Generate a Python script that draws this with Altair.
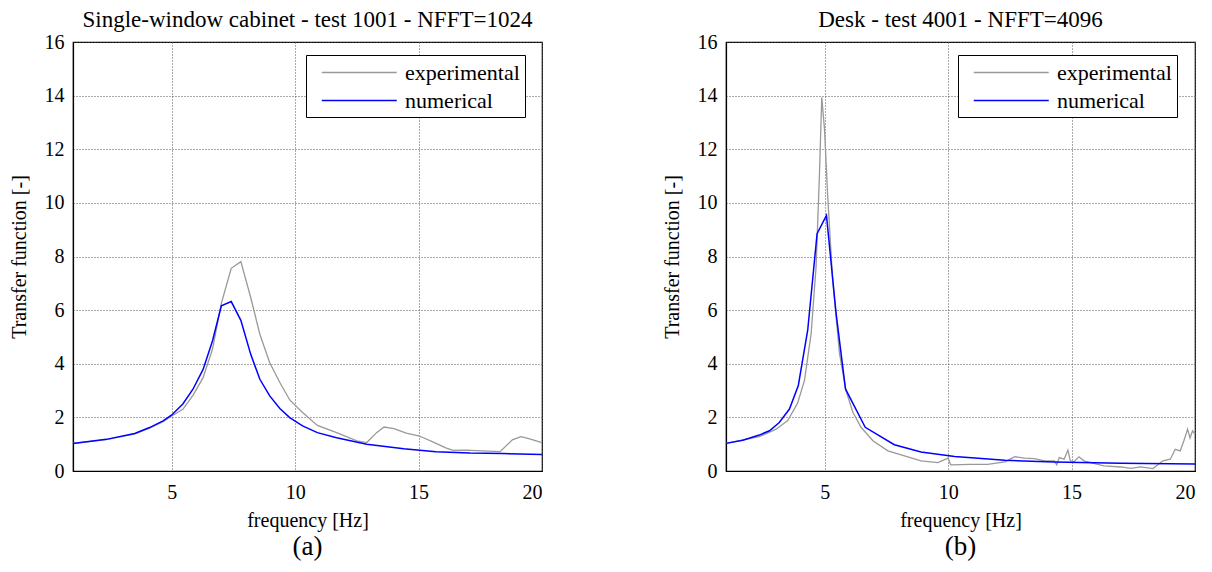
import altair as alt
import pandas as pd

SERIF = "Liberation Serif"

# ---- Panel (a): Single-window cabinet ----
a_exp_f = [1.0, 2.35, 3.5, 4.1, 4.65, 5.0, 5.45, 5.86, 6.27, 6.65, 7.01, 7.41, 7.8, 8.2, 8.57, 8.97,
           9.38, 9.78, 10.3, 10.9, 11.68, 12.5, 12.9, 13.3, 13.6, 14.0, 14.5, 15.0, 15.2, 15.6, 16.1,
           16.4, 16.9, 17.6, 18.3, 18.8, 19.15, 19.5, 20.0]
a_exp_v = [1.03, 1.17, 1.38, 1.6, 1.84, 2.05, 2.3, 2.82, 3.48, 4.54, 6.25, 7.56, 7.81, 6.47, 5.1, 4.04,
           3.3, 2.65, 2.18, 1.7, 1.43, 1.12, 1.06, 1.43, 1.64, 1.58, 1.41, 1.31, 1.24, 1.08, 0.86,
           0.77, 0.78, 0.75, 0.72, 1.16, 1.28, 1.2, 1.06]
a_num_f = [1.0, 2.35, 3.5, 4.1, 4.65, 5.0, 5.45, 5.86, 6.27, 6.65, 7.01, 7.41, 7.8, 8.2, 8.57, 8.97,
           9.38, 9.78, 10.3, 10.9, 11.68, 12.9, 14.4, 15.7, 17.08, 18.4, 20.0]
a_num_v = [1.03, 1.18, 1.4, 1.62, 1.87, 2.09, 2.5, 3.05, 3.79, 4.85, 6.16, 6.32, 5.62, 4.35, 3.42, 2.8,
           2.33, 1.99, 1.68, 1.43, 1.24, 1.0, 0.83, 0.72, 0.67, 0.65, 0.62]

# ---- Panel (b): Desk ----
b_exp_f = [1.0, 2.35, 3.03, 3.5, 3.9, 4.18, 4.45, 4.65, 4.78, 4.88, 4.99, 5.12, 5.32, 5.6, 5.86, 6.14,
           6.47, 6.95, 7.56, 8.23, 8.9, 9.58, 10.0, 10.1, 10.9, 11.6, 12.3, 12.7, 13.1, 13.5, 13.9,
           14.3, 14.4, 14.5, 14.7, 14.85, 14.95, 15.1, 15.3, 15.5, 16.3, 17.0, 17.4, 17.8, 18.3,
           18.7, 19.0, 19.2, 19.4, 19.55, 19.7, 19.8, 19.9, 20.0]
b_exp_v = [1.03, 1.28, 1.56, 1.88, 2.53, 3.38, 5.13, 7.63, 10.9, 13.94, 12.75, 10.25, 7.13, 4.38, 3.0, 2.19,
           1.63, 1.13, 0.75, 0.56, 0.38, 0.31, 0.48, 0.23, 0.25, 0.25, 0.34, 0.53, 0.48, 0.46, 0.38,
           0.38, 0.23, 0.5, 0.44, 0.78, 0.38, 0.35, 0.53, 0.38, 0.19, 0.15, 0.1, 0.15, 0.09,
           0.38, 0.44, 0.81, 0.75, 1.13, 1.56, 1.23, 1.5, 1.38]
b_num_f = [1.0, 1.68, 2.35, 2.76, 3.16, 3.57, 3.93, 4.31, 4.69, 5.07, 5.46, 5.84, 6.64, 7.82, 8.9,
           10.26, 12.3, 14.3, 17.0, 20.0]
b_num_v = [1.03, 1.15, 1.34, 1.5, 1.81, 2.31, 3.19, 5.25, 8.85, 9.53, 5.88, 3.06, 1.63, 0.98, 0.71,
           0.54, 0.4, 0.34, 0.29, 0.26]

series_names = ["experimental", "numerical"]
series_colors = ["#999999", "#0000ff"]

W, H = 469, 429


def panel(ef, ev, nf, nv, title, tag, legend_x, legend_y):
    df_e = pd.DataFrame({"f": ef, "v": ev, "s": series_names[0]})
    df_n = pd.DataFrame({"f": nf, "v": nv, "s": series_names[1]})
    x = alt.X("f:Q", scale=alt.Scale(domain=[1, 20], nice=False, zero=False),
              axis=alt.Axis(values=[5, 10, 15, 20], title="frequency [Hz]"))
    y = alt.Y("v:Q", scale=alt.Scale(domain=[0, 16], nice=False),
              axis=alt.Axis(values=list(range(0, 17, 2)), title="Transfer function [-]"))
    color = alt.Color("s:N", scale=alt.Scale(domain=series_names, range=series_colors),
                      legend=alt.Legend(title=None, orient="none", legendX=legend_x, legendY=legend_y,
                                        direction="vertical"))
    le = alt.Chart(df_e).mark_line(strokeWidth=1.3).encode(x=x, y=y, color=color)
    ln = alt.Chart(df_n).mark_line(strokeWidth=1.5).encode(x=x, y=y, color=color)
    lab = alt.Chart(pd.DataFrame({"t": [tag]})).mark_text(
        font=SERIF, fontSize=27, baseline="middle", align="center"
    ).encode(text="t:N", x=alt.value(W / 2), y=alt.value(H + 76))
    return alt.layer(le, ln, lab).properties(
        width=W, height=H,
        title=alt.TitleParams(title, font=SERIF, fontSize=23, fontWeight="normal",
                              color="black", offset=0, anchor="middle"))


left = panel(a_exp_f, a_exp_v, a_num_f, a_num_v,
             "Single-window cabinet - test 1001 - NFFT=1024", "(a)", 233, 13)
right = panel(b_exp_f, b_exp_v, b_num_f, b_num_v,
              "Desk - test 4001 - NFFT=4096", "(b)", 232, 13)

chart = alt.hconcat(left, right, spacing=115).resolve_scale(color="independent").configure_view(
    stroke="black", strokeWidth=1.2
).configure_axis(
    labelFont=SERIF, labelFontSize=20, labelColor="black",
    titleFont=SERIF, titleFontSize=20, titleFontWeight="normal", titleColor="black",
    domainColor="black", domainWidth=1.2, ticks=False, labelPadding=9,
    gridColor="#555555", gridDash=[1, 2], gridWidth=1, gridOpacity=1
).configure_axisY(titlePadding=15).configure_axisX(titlePadding=8, labelPadding=11).configure_legend(
    strokeColor="black", fillColor="white", padding=5, cornerRadius=0,
    labelFont=SERIF, labelFontSize=22, labelColor="black",
    symbolType="M-0.15,0H6.28", symbolSize=544, symbolStrokeWidth=1.4, rowPadding=4,
    labelOffset=69
).properties(background="white", padding={"left": 0, "top": 0, "right": 0, "bottom": 0})

chart.save("out.html", embed_options={"renderer": "svg", "actions": False})
